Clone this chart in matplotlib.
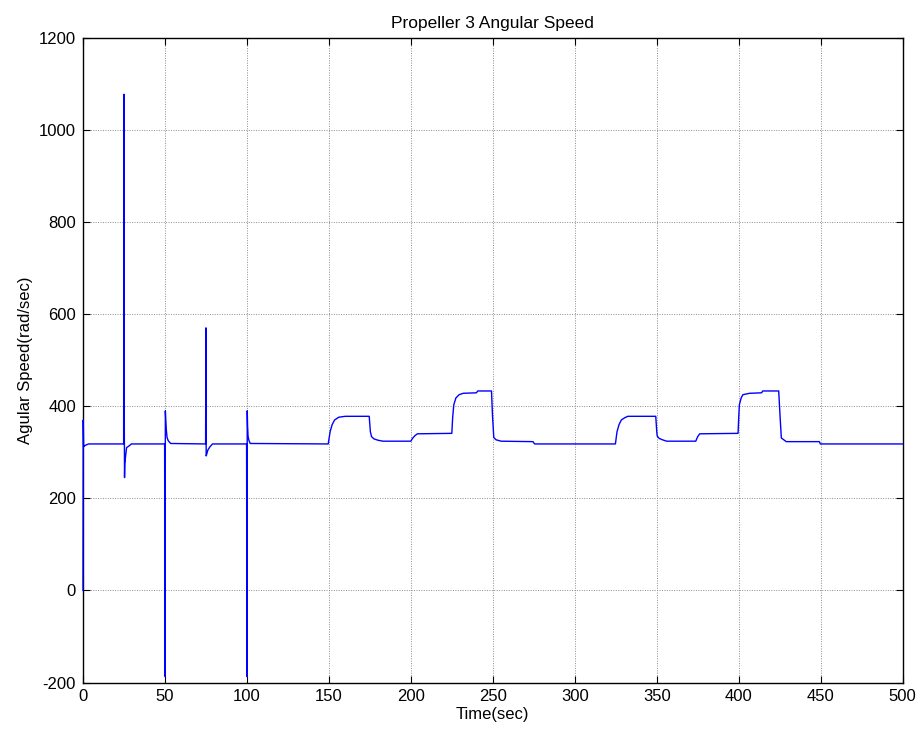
import matplotlib
matplotlib.use('Agg')
import matplotlib.pyplot as plt
import numpy as np

# start-up transient
start_t = [0.0, 0.15, 0.4, 1.0, 2.0, 3.5]
start_w = [0, 370, 312, 314, 316, 318]

# disturbance at t=25
spike25_t = [24.8, 25.0, 25.15, 25.35, 25.5, 26.0, 26.6, 28.2, 29.5]
spike25_w = [318, 1077, 410, 245, 274, 292, 310, 314, 318]

# disturbance at t=50
spike50_t = [49.8, 50.0, 50.1, 50.25, 50.5, 50.8, 51.3, 52.0, 53.5]
spike50_w = [318, -87, -187, 390, 370, 350, 332, 325, 319]

# disturbance at t=75
spike75_t = [74.8, 75.0, 75.15, 75.5, 76.2, 77.5, 79.0]
spike75_w = [318, 570, 292, 296, 305, 312, 318]

# disturbance at t=100
spike100_t = [99.8, 100.0, 100.2, 100.4, 100.7, 101.2, 102.0]
spike100_w = [318, -187, 390, 358, 335, 326, 319]

# first set of speed steps
steps1_t = [149.6, 150.2, 150.8, 152.0, 153.5, 156.0, 160.0, 174.6, 175.3, 176.0,
            177.5, 180.0, 183.0, 200.0, 201.0, 202.5, 204.0, 225.0, 225.5, 226.2,
            227.5, 229.5, 232.0, 240.0, 240.8, 249.2, 249.8, 250.6, 252.0, 255.0,
            274.5, 275.5]
steps1_w = [318, 332, 345, 360, 370, 376, 378, 378, 345, 334,
            329, 326, 324, 324, 330, 336, 340, 341, 375, 403,
            418, 425, 428, 429, 433, 433, 380, 332, 327, 324,
            323, 318]

# second set of speed steps
steps2_t = [324.8, 325.4, 325.8, 327.0, 328.4, 330.5, 332.4, 349.4, 350.0, 350.3,
            351.5, 353.5, 356.0, 373.8, 375.0, 376.2, 399.6, 400.0, 400.4, 401.5,
            402.6, 406.7, 414.0, 414.6, 424.4, 425.2, 426.0, 427.5, 429.0, 449.2,
            449.8, 500.0]
steps2_w = [318, 335, 345, 360, 370, 375, 378, 378, 345, 335,
            330, 327, 324, 324, 334, 340, 341, 375, 403, 418,
            425, 428, 429, 433, 433, 380, 331, 327, 323, 323,
            318, 318]

time = np.concatenate([start_t, spike25_t, spike50_t, spike75_t, spike100_t,
                       steps1_t, steps2_t])
speed = np.concatenate([start_w, spike25_w, spike50_w, spike75_w, spike100_w,
                        steps1_w, steps2_w])

plt.rcParams['font.family'] = ['Liberation Sans', 'DejaVu Sans']
plt.rcParams['font.size'] = 12
plt.rcParams['axes.unicode_minus'] = False

fig = plt.figure(figsize=(9.22, 7.39), dpi=100)
ax = fig.add_axes([0.090, 0.0764, 0.889, 0.8726])

# line drawn over the frame (unclipped) so the t=0 jump shows on the left axis
ax.plot(time, speed, color='#0000ff', linewidth=1.0, zorder=3, clip_on=False)

ax.set_xlim(0, 500)
ax.set_ylim(-200, 1200)
ax.set_xticks(np.arange(0, 501, 50))
ax.set_yticks(np.arange(-200, 1201, 200))

ax.grid(True, color='#8c8c8c', linestyle=(0, (1, 1.5)), linewidth=0.7)
ax.tick_params(direction='in', length=5, width=0.8, top=True, right=True,
               labelsize=12, pad=5)
for s in ax.spines.values():
    s.set_linewidth(1.0)

ax.set_title('Propeller 3 Angular Speed', fontsize=12.5, pad=7)
ax.set_xlabel('Time(sec)', fontsize=12, labelpad=2)
ax.set_ylabel('Agular Speed(rad/sec)', fontsize=12, labelpad=4)

fig.savefig('out.png', dpi=100)
